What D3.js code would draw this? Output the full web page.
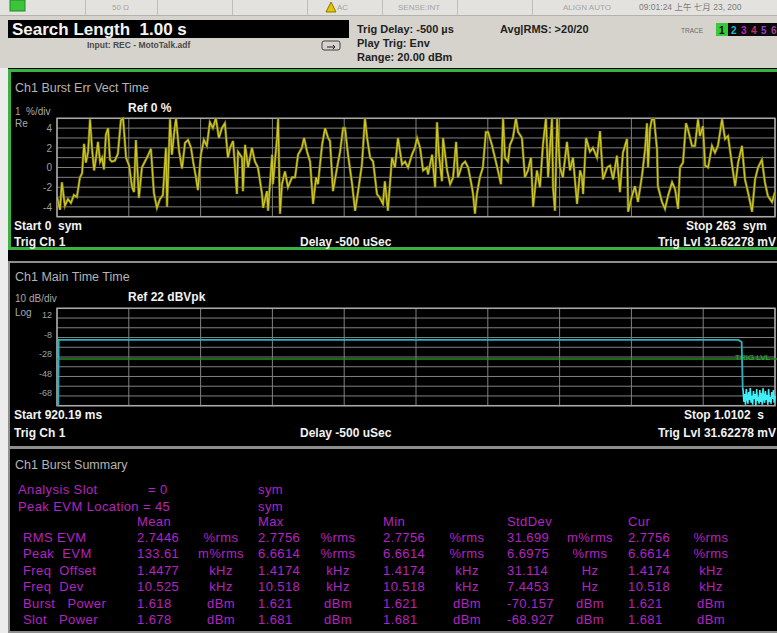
<!DOCTYPE html>
<html lang="en">
<head>
<meta charset="UTF-8" />
<script src="https://d3js.org/d3.v7.min.js"></script>
<title>Ch1 Burst Err Vect Time</title>
<style>
  body { margin: 0; background: #ececec; }
  text { font-family: "Liberation Sans", Arial, "Noto Sans CJK TC", sans-serif; white-space: pre; }
</style>
</head>
<body>
<script type="text/javascript">
var width = 777; var height = 633;

// Ch1 Burst Err Vect Time: symbol number and error vector (%)
var evmSym = [0, 1.1, 1.8, 2.9, 4.0, 5.1, 6.2, 7.3, 8.4, 9.2, 9.9, 10.6, 11.4, 12.1, 12.8, 13.6, 14.3, 15.0, 15.8, 16.5,
  17.2, 17.9, 18.7, 19.4, 20.1, 21.2, 22.3, 23.4, 24.2, 25.3, 26.4, 27.5, 28.2, 28.9, 30.0, 31.1, 32.2, 33.3, 34.4, 35.5,
  36.6, 37.7, 38.8, 39.9, 40.3, 41.4, 42.1, 42.9, 43.6, 44.7, 45.8, 46.9, 48.0, 49.1, 49.8, 50.9, 51.6, 52.7, 53.8, 54.9,
  56.0, 57.1, 58.2, 59.3, 60.4, 61.5, 62.6,
  63.4, 64.5, 65.9, 66.3, 67.8, 68.1, 68.9, 70.0, 71.4, 72.5, 73.6, 75.1, 75.5, 76.9, 77.3, 78.8, 79.1, 80.6, 81.0, 81.7,
  82.4, 83.5, 84.6, 86.1, 87.2, 88.3, 89.7, 90.5, 91.6, 92.7, 93.8, 94.9, 95.6, 97.1, 98.2, 99.3, 100.0, 101.1, 102.6, 103.7,
  104.8, 105.5, 106.6, 108.1, 109.2, 110.3, 111.7, 112.8, 113.6, 114.7, 115.8, 117.2, 118.3, 119.4, 120.1, 121.2, 122.7, 123.8,
  124.9, 126.4, 127.5, 128.6, 130.0, 131.1,
  131.9, 133.0, 134.1, 135.5, 135.9, 137.4, 138.5, 139.2, 139.9, 141.0, 141.4, 142.9, 144.0, 145.1, 146.2, 146.9, 148.4, 149.5,
  150.6, 152.0, 152.4, 153.1, 153.8, 154.9, 156.0, 157.1, 157.9, 159.3, 160.4, 161.5, 162.6, 163.4, 164.1, 165.2, 165.9, 167.0,
  168.1, 168.9, 170.3, 171.4, 172.5, 173.6, 174.4, 175.8, 176.9, 178.0, 179.1, 179.9, 181.3, 181.7, 182.4, 183.2, 184.2, 185.3,
  186.8, 187.9, 189.0, 190.5, 191.6, 192.3, 192.7, 193.8, 195.2, 196.3,
  197.8, 198.9, 200.0, 201.5, 202.6, 203.7, 205.1, 206.2, 207.3, 208.8, 209.2, 210.6, 211.7, 212.8, 214.3, 215.4, 216.1, 216.5,
  217.2, 217.9, 218.7, 219.8, 220.1, 221.6, 222.7, 223.8, 225.3, 226.4, 227.5, 228.2, 229.3, 230.4, 231.1, 232.6, 233.7, 234.8,
  235.5, 236.6, 237.4, 238.5, 239.9, 241.0, 242.1, 243.6, 244.7, 245.8, 247.3, 248.4, 249.5, 250.9, 252.0, 253.1, 254.6, 255.7,
  256.8, 258.2, 259.3, 260.4, 261.9, 263.0];
var evmPct = [-3.0, -4.3, -1.5, -3.9, -3.2, -3.6, -2.8, -3.0, -1.0, -0.6, 2.4, 0.5, 1.6, 4.9, 2.0, -0.3, 1.0, 2.6, 0.6, 1.0,
  -0.2, 3.3, 4.0, 0.8, 0.6, 0.7, 1.4, 4.8, 5.0, 1.0, 0.2, -2.0, -2.5, 2.8, -3.1, 0.0, 0.6, 1.2, 1.9, -2.6,
  -4.1, -3.2, -2.8, 2.0, -4.0, 4.9, 1.3, 3.5, 5.0, 1.7, -0.1, 2.5, 2.8, 2.0, 0.7, -1.0, -2.3, 1.3, 2.8, 2.2,
  4.6, 4.0, 5.0, 3.0, 4.0, 4.5, 1.0,
  2.0, 2.7, -2.7, 1.6, 1.0, -2.4, 2.3, 0.0, 2.0, 0.6, 0.0, -2.7, -4.1, -2.4, -4.4, 1.3, -1.7, 3.0, 5.0, -4.7,
  -1.7, -0.4, -2.0, -1.0, -1.0, 1.3, 2.0, 3.0, 1.6, 0.6, -3.7, -1.0, -1.7, 2.3, 4.0, 3.0, 2.7, -2.4, 0.0, 1.6,
  4.0, 4.0, 1.3, -1.7, -4.4, -2.4, 0.3, 5.0, 3.0, 1.0, 0.6, -2.7, -3.1, -3.7, -1.4, -4.4, 1.0, 0.0,
  3.0, 0.3, 0.6, 0.0, 1.3, 2.0,
  3.0, 2.0, -0.3, 0.0, -0.7, 1.3, -2.0, 4.6, 1.3, -1.4, 3.0, -0.3, -1.7, -1.0, 2.6, -1.0, 0.3, 0.6,
  0.0, -2.0, -2.7, -4.7, -2.7, -1.0, 0.0, 3.6, 3.6, 2.3, 1.0, -0.3, -1.7, 5.0, 1.0, 0.6, 2.3, 3.0,
  5.0, 3.6, 3.0, -1.0, -0.3, 1.0, -4.0, -0.3, -2.0, 2.3, 5.0, -1.0, 5.0, -2.0, -4.4, 5.0, 0.0, -1.0,
  2.6, -0.3, 1.0, -3.7, -0.3, -1.0, -2.7, 3.0, 1.6, 2.0,
  1.0, 3.7, -1.2, 0.0, 0.2, -1.2, 1.2, -2.5, 1.5, 2.9, -4.5, -2.9, -1.9, -3.5, -0.8, 1.8, 4.5, 0.0,
  3.9, 4.9, 4.9, 1.8, -1.9, -3.5, -4.2, -2.9, -1.5, -2.2, -4.2, 0.0, 0.5, 4.5, 3.9, 2.2, 2.2, 4.9,
  3.2, 4.2, 0.2, 0.0, 2.2, 1.5, 2.2, 4.9, 2.9, 3.2, 0.2, -1.9, 0.5, 2.2, -1.2, -2.5, -4.5, -1.2,
  0.0, 0.8, -1.5, -2.9, -3.5, -2.5];
var evmTicks = [4, 2, 0, -2, -4];

// Ch1 Main Time: time (ms) and level (dBV)
var mainMs = [920.19, 920.34, 920.40, 1005.60, 1006.02, 1006.15,
  1006.2, 1006.3, 1006.4, 1006.5, 1006.6, 1006.7, 1006.8, 1006.9, 1007.0, 1007.1, 1007.2, 1007.3, 1007.4, 1007.5,
  1007.6, 1007.7, 1007.8, 1007.9, 1008.0, 1008.1, 1008.2, 1008.3, 1008.4, 1008.5, 1008.6, 1008.7, 1008.8, 1008.9,
  1009.0, 1009.1, 1009.2, 1009.3, 1009.4, 1009.5, 1009.6, 1009.7, 1009.8, 1009.9, 1010.0, 1010.1, 1010.2];
var mainDb = [-77, -77, -10.5, -10.5, -12.6, -60,
  -62, -74, -66, -77, -61, -70, -76, -64, -72, -60, -75, -68, -77, -63,
  -71, -66, -78, -61, -73, -69, -76, -62, -74, -65, -77, -60, -70, -75,
  -63, -72, -67, -77, -61, -74, -69, -76, -64, -71, -62, -75, -68];
var mainTicks = [12, -8, -28, -48, -68];
var trigLevelDb = -30;

// Ch1 Burst Summary
var summaryCols = ["Mean", "Max", "Min", "StdDev", "Cur"];
var summaryRows = ["RMS EVM", "Peak  EVM", "Freq  Offset", "Freq  Dev", "Burst   Power", "Slot   Power"];
var summaryVals = [
  [2.7446, 2.7756, 2.7756, 31.699, 2.7756],
  [133.61, 6.6614, 6.6614, 6.6975, 6.6614],
  [1.4477, 1.4174, 1.4174, 31.114, 1.4174],
  [10.525, 10.518, 10.518, 7.4453, 10.518],
  [1.618, 1.621, 1.621, -70.157, 1.621],
  [1.678, 1.681, 1.681, -68.927, 1.681]];
var summaryUnits = [
  ["%rms", "%rms", "%rms", "m%rms", "%rms"],
  ["m%rms", "%rms", "%rms", "%rms", "%rms"],
  ["kHz", "kHz", "kHz", "Hz", "kHz"],
  ["kHz", "kHz", "kHz", "Hz", "kHz"],
  ["dBm", "dBm", "dBm", "dBm", "dBm"],
  ["dBm", "dBm", "dBm", "dBm", "dBm"]];

var svg = d3.select("body").append("svg").attr("width", width).attr("height", height);

function txt(x, y, s, size, fill, weight, anchor) {
  return svg.append("text").attr("x", x).attr("y", y).text(s)
    .attr("font-size", size).attr("fill", fill)
    .attr("font-weight", weight || "normal").attr("text-anchor", anchor || "start");
}

// ---- top status bar ----
svg.append("rect").attr("x", 0).attr("y", 0).attr("width", width).attr("height", 68).attr("fill", "#d6d3cd");
svg.append("rect").attr("x", 0).attr("y", 0).attr("width", width).attr("height", 15).attr("fill", "#e4e2de");
svg.append("line").attr("x1", 0).attr("x2", width).attr("y1", 15.5).attr("y2", 15.5).attr("stroke", "#b4b2ac");
[85, 157, 232, 307, 382, 457, 532].forEach(function(x) {
  svg.append("line").attr("x1", x + 0.5).attr("x2", x + 0.5).attr("y1", 0).attr("y2", 15).attr("stroke", "#c0beb8");
});
svg.append("rect").attr("x", 10).attr("y", 0).attr("width", 15).attr("height", 11).attr("fill", "#3cc43c").attr("stroke", "#1f8a1f");
txt(112, 10, "50 Ω", 8, "#a4a4a4");
svg.append("path").attr("d", "M326,12 L331,2 L336,12 Z").attr("fill", "#e2c400").attr("stroke", "#8a7800");
txt(337, 10, "AC", 8, "#a4a4a4");
txt(398, 10, "SENSE:INT", 8, "#a4a4a4");
txt(563, 10, "ALIGN AUTO", 8, "#a4a4a4");
txt(639, 10, "09:01:24 上午 七月 23, 200", 8.5, "#7c7c7c");

svg.append("rect").attr("x", 8).attr("y", 20).attr("width", 341).attr("height", 18).attr("fill", "#000");
txt(12, 35, "Search Length  1.00 s", 17, "#f4f4f4", "bold");
txt(87, 48, "Input: REC - MotoTalk.adf", 8.5, "#4a4a4a", "bold");
svg.append("rect").attr("x", 322).attr("y", 41).attr("width", 18).attr("height", 9).attr("rx", 2)
  .attr("fill", "none").attr("stroke", "#404040");
svg.append("path").attr("d", "M327,47 L335,47 M333,45 L335,47 L333,49").attr("stroke", "#202020").attr("fill", "none");

txt(357, 33, "Trig Delay: -500 µs", 11, "#222", "bold");
txt(357, 47, "Play Trig: Env", 11, "#222", "bold");
txt(357, 61, "Range: 20.00 dBm", 11, "#222", "bold");
txt(500, 33, "Avg|RMS: >20/20", 11, "#222", "bold");
txt(681, 33, "TRACE", 6.5, "#6a6a6a");
svg.append("rect").attr("x", 716).attr("y", 23).attr("width", 12).attr("height", 13).attr("fill", "#38c838");
svg.append("rect").attr("x", 728).attr("y", 23).attr("width", 49).attr("height", 13).attr("fill", "#0a0a0a");
txt(719, 34, "1", 10, "#0a0a0a", "bold");
[["2", "#20b8c8"], ["3", "#c020c0"], ["4", "#c03060"], ["5", "#9040d0"], ["6", "#a04090"]].forEach(function(d, i) {
  txt(731 + i * 10, 34, d[0], 10, d[1], "bold");
});

// ---- black screen area ----
svg.append("rect").attr("x", 8).attr("y", 68).attr("width", width - 8).attr("height", height - 68).attr("fill", "#000");

// ---- panel 1: burst error vector time ----
svg.append("rect").attr("x", 9.5).attr("y", 70.5).attr("width", 780).attr("height", 178)
  .attr("fill", "none").attr("stroke", "#3bb143").attr("stroke-width", 3);
txt(15, 92, "Ch1 Burst Err Vect Time", 12.5, "#b4b4b4");
txt(15, 115, "1  %/div", 10, "#a8a8a8");
txt(128, 112, "Ref 0 %", 12, "#f2f2f2", "bold");
txt(15, 127, "Re", 10, "#a8a8a8");

var x1 = d3.scaleLinear().domain([0, 263]).range([57, 775]);
var y1 = d3.scaleLinear().domain([-5, 5]).range([216.7, 118.3]);
var div1 = d3.scaleLinear().domain([0, 10]).range([57, 775]);

function grid(xs, ys, top, bottom) {
  var g = svg.append("g");
  g.selectAll(".h").data(d3.range(0, 11)).enter().append("line")
    .attr("x1", 57).attr("x2", 775)
    .attr("y1", function(d){ return ys(d); }).attr("y2", function(d){ return ys(d); })
    .attr("stroke", "#808080").attr("stroke-width", 1);
  g.selectAll(".v").data(d3.range(0, 11)).enter().append("line")
    .attr("x1", function(d){ return xs(d); }).attr("x2", function(d){ return xs(d); })
    .attr("y1", top).attr("y2", bottom)
    .attr("stroke", "#808080").attr("stroke-width", 1);
  g.append("rect").attr("x", 57).attr("y", top).attr("width", 718).attr("height", bottom - top)
    .attr("fill", "none").attr("stroke", "#a8a8a8").attr("stroke-width", 1.5);
}
grid(div1, d3.scaleLinear().domain([0, 10]).range([118.3, 216.7]), 118.3, 216.7);

var ax1 = svg.append("g").attr("transform", "translate(52,0)")
  .call(d3.axisLeft(y1).tickValues(evmTicks).tickFormat(String).tickSize(0).tickPadding(0));
ax1.select(".domain").remove();
ax1.selectAll("text").attr("fill", "#a0a0a0").attr("font-size", 10).attr("font-family", "Liberation Sans, Arial");

svg.append("clipPath").attr("id", "clip1").append("rect")
  .attr("x", 57).attr("y", 117).attr("width", 720).attr("height", 101);
var evmLine = d3.line().x(function(d, i){ return x1(evmSym[i]); }).y(function(d){ return y1(d); });
svg.append("path").datum(evmPct).attr("d", evmLine).attr("clip-path", "url(#clip1)")
  .attr("fill", "none").attr("stroke", "#6f6c10").attr("stroke-width", 2.6);
svg.append("path").datum(evmPct).attr("d", evmLine).attr("clip-path", "url(#clip1)")
  .attr("fill", "none").attr("stroke", "#cdc626").attr("stroke-width", 1.3);

txt(14, 230, "Start 0  sym", 12, "#f2f2f2", "bold");
txt(686, 230, "Stop 263  sym", 12, "#f2f2f2", "bold");
txt(14, 246, "Trig Ch 1", 12, "#f2f2f2", "bold");
txt(300, 246, "Delay -500 uSec", 12, "#f2f2f2", "bold");
txt(776, 246, "Trig Lvl 31.62278 mV", 12, "#f2f2f2", "bold", "end");

// ---- panel 2: main time ----
svg.append("rect").attr("x", 9).attr("y", 262).attr("width", 780).attr("height", 185)
  .attr("fill", "none").attr("stroke", "#8e8e8e").attr("stroke-width", 2);
txt(15, 281, "Ch1 Main Time Time", 12.5, "#b4b4b4");
txt(15, 302, "10 dB/div", 10, "#a8a8a8");
txt(128, 301, "Ref 22 dBVpk", 12, "#f2f2f2", "bold");
txt(15, 316, "Log", 10, "#a8a8a8");

var x2 = d3.scaleLinear().domain([920.19, 1010.2]).range([57, 775]);
var y2 = d3.scaleLinear().domain([-78, 22]).range([405.7, 308.3]);
grid(div1, d3.scaleLinear().domain([0, 10]).range([308.3, 405.7]), 308.3, 405.7);

var ax2 = svg.append("g").attr("transform", "translate(52,-3)")
  .call(d3.axisLeft(y2).tickValues(mainTicks).tickFormat(String).tickSize(0).tickPadding(0));
ax2.select(".domain").remove();
ax2.selectAll("text").attr("fill", "#a0a0a0").attr("font-size", 9).attr("font-family", "Liberation Sans, Arial");

// trigger level line
svg.append("line").attr("x1", 57).attr("x2", 777)
  .attr("y1", y2(trigLevelDb)).attr("y2", y2(trigLevelDb))
  .attr("stroke", "#1f8f24").attr("stroke-width", 1.6);
txt(770, y2(trigLevelDb) + 1, "TRIG LVL", 8, "#36b83c", "normal", "end");

svg.append("clipPath").attr("id", "clip2").append("rect")
  .attr("x", 56).attr("y", 307).attr("width", 722).attr("height", 100);
var mainLine = d3.line().x(function(d, i){ return x2(mainMs[i]); }).y(function(d){ return y2(d); });
svg.append("path").datum(mainDb.slice(0, 6)).attr("d", mainLine).attr("clip-path", "url(#clip2)")
  .attr("fill", "none").attr("stroke", "#26b4c0").attr("stroke-width", 1.8);
var noiseLine = d3.line().x(function(d, i){ return x2(mainMs[i + 5]); }).y(function(d){ return y2(d); });
svg.append("path").datum(mainDb.slice(5)).attr("d", noiseLine).attr("clip-path", "url(#clip2)")
  .attr("fill", "none").attr("stroke", "#3ef0fa").attr("stroke-width", 1.6);

txt(14, 419, "Start 920.19 ms", 12, "#f2f2f2", "bold");
txt(684, 419, "Stop 1.0102  s", 12, "#f2f2f2", "bold");
txt(14, 437, "Trig Ch 1", 12, "#f2f2f2", "bold");
txt(300, 437, "Delay -500 uSec", 12, "#f2f2f2", "bold");
txt(776, 437, "Trig Lvl 31.62278 mV", 12, "#f2f2f2", "bold", "end");

// ---- panel 3: burst summary ----
svg.append("rect").attr("x", 9).attr("y", 448).attr("width", 780).attr("height", 184)
  .attr("fill", "none").attr("stroke", "#8e8e8e").attr("stroke-width", 2);
txt(15, 469, "Ch1 Burst Summary", 12.5, "#b4b4b4");

var mag = "#b424c0";
function mtxt(x, y, s, anchor) {
  return txt(x, y, s, 13, mag, "normal", anchor).attr("letter-spacing", 0.4);
}
mtxt(18, 494, "Analysis Slot");
mtxt(148, 494, "= 0");
mtxt(258, 494, "sym");
mtxt(18, 511, "Peak EVM Location = 45");
mtxt(258, 511, "sym");

var valX = [137, 258, 383, 507, 628];
var unitX = [221, 338, 467, 590, 711];
summaryCols.forEach(function(c, j) { mtxt(valX[j], 526, c); });
summaryRows.forEach(function(r, i) {
  var yy = 542 + i * 16.4;
  mtxt(23, yy, r);
  summaryVals[i].forEach(function(v, j) {
    mtxt(valX[j], yy, String(v));
    mtxt(unitX[j], yy, summaryUnits[i][j], "middle");
  });
});
</script>
</body>
</html>
